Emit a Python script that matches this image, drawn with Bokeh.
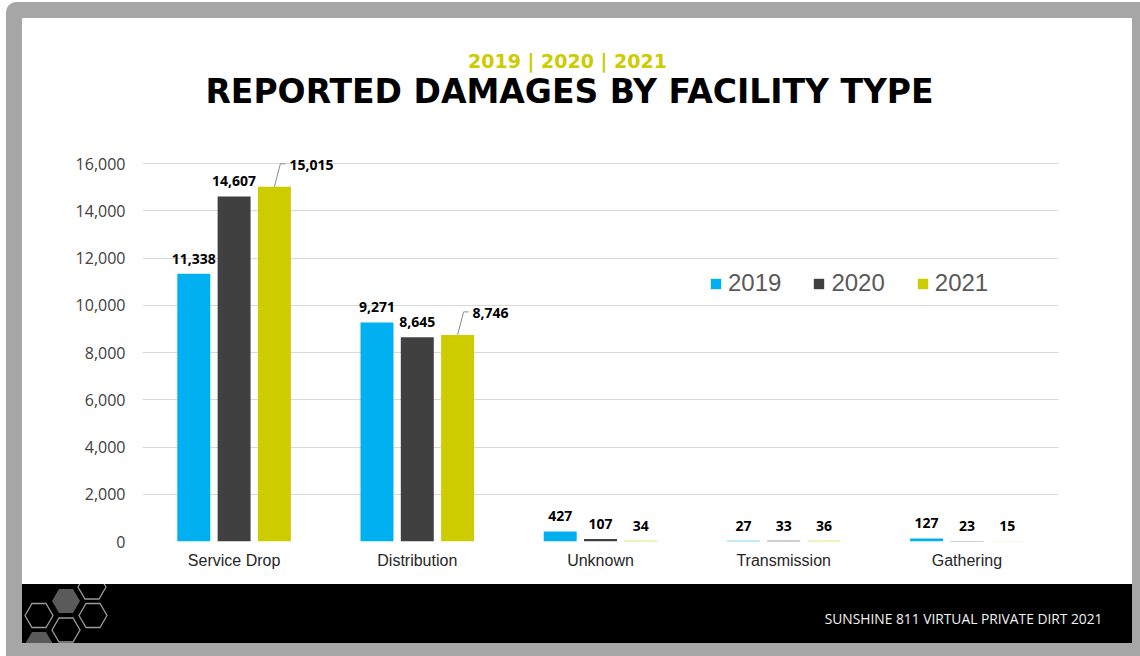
from urllib.parse import quote
from bokeh.plotting import figure
from bokeh.models import (FactorRange, Range1d, ColumnDataSource, Legend, LegendItem,
                          Label, FixedTicker, NumeralTickFormatter)
from bokeh.transform import dodge
from bokeh.core.properties import value
from bokeh.embed import file_html
from bokeh.resources import INLINE

# ---------------- data ----------------
categories = ["Service Drop", "Distribution", "Unknown", "Transmission", "Gathering"]
years = ["2019", "2020", "2021"]
damages_2019 = [11338, 9271, 427, 27, 127]
damages_2020 = [14607, 8645, 107, 33, 23]
damages_2021 = [15015, 8746, 34, 36, 15]
y_ticks = [0, 2000, 4000, 6000, 8000, 10000, 12000, 14000, 16000]

subtitle_text = "2019 | 2020 | 2021"
title_text = "REPORTED DAMAGES BY FACILITY TYPE"
footer_text = "SUNSHINE 811 VIRTUAL PRIVATE DIRT 2021"

# ---------------- styles ----------------
colors = ["#00B0F0", "#404040", "#CCCC00"]
bar_offsets = [-0.22, 0.0, 0.22]
bar_width = 0.18
leader_2021 = [True, True, False, False, False]   # labels moved aside with a leader line

CW, CH = 1140, 656                    # canvas
FL, FT, FW, FH = 142, 138, 916, 403   # frame in canvas px
PX_PER_16K = 378.0
Y_END = 16000.0 * FH / PX_PER_16K
PX_PER_UNIT = PX_PER_16K / 16000.0
PX_PER_CAT = FW / len(categories)

# ---------------- slide background (CSS, decoration only) ----------------
hexes = [(66, 601, True), (92, 587, False), (39, 615.5, False), (93, 615.5, False),
         (66, 630, False), (39, 644, True)]
hex_svg = ""
for cx, cy, filled in hexes:
    pts = [(cx - 14, cy), (cx - 7, cy - 12), (cx + 7, cy - 12), (cx + 14, cy), (cx + 7, cy + 12), (cx - 7, cy + 12)]
    ps = " ".join(f"{a},{b}" for a, b in pts)
    if filled:
        hex_svg += f"<polygon points='{ps}' fill='#5A5A5A'/>"
    else:
        hex_svg += f"<polygon points='{ps}' fill='none' stroke='#9A9A9A' stroke-width='1.3'/>"

slide_svg = (
    f"<svg xmlns='http://www.w3.org/2000/svg' width='{CW}' height='{CH}'>"
    "<rect x='6' y='2' width='1150' height='670' rx='10' fill='#A6A6A6'/>"
    "<rect x='22' y='18' width='1110' height='625' fill='#FFFFFF'/>"
    "<rect x='22' y='584' width='1110' height='59' fill='#000000'/>"
    "<clipPath id='c'><rect x='22' y='584' width='1110' height='59'/></clipPath>"
    f"<g clip-path='url(#c)'>{hex_svg}</g>"
    "</svg>"
)
bg_css = f'url("data:image/svg+xml,{quote(slide_svg, safe="")}")'

p = figure(x_range=FactorRange(factors=categories), y_range=Range1d(0, Y_END),
           frame_width=FW, frame_height=FH,
           min_border_left=FL, min_border_top=FT,
           min_border_right=CW - FL - FW, min_border_bottom=CH - FT - FH,
           output_backend="svg", toolbar_location=None)
p.styles = {"background-image": bg_css, "background-repeat": "no-repeat",
            "background-size": f"{CW}px {CH}px"}
p.border_fill_color = None
p.background_fill_color = None
p.outline_line_color = None

# ---------------- texts ----------------
p.add_layout(Label(x=567, y=60, x_units="canvas", y_units="canvas", text=subtitle_text,
                   text_align="center", text_baseline="middle", text_font="DejaVu Sans",
                   text_font_style="bold", text_font_size="19px", text_color="#CCCC00"), "above")
p.add_layout(Label(x=569, y=91, x_units="canvas", y_units="canvas", text=title_text,
                   text_align="center", text_baseline="middle", text_font="DejaVu Sans",
                   text_font_style="bold", text_font_size="33px", text_color="#000000"), "above")
p.add_layout(Label(x=1102, y=618, x_units="canvas", y_units="canvas", text=footer_text,
                   text_align="right", text_baseline="middle", text_font="Open Sans",
                   text_font_size="13.8px", text_color="#F2F2F2"), "above")

# ---------------- bars ----------------
series = [damages_2019, damages_2020, damages_2021]
src = ColumnDataSource(dict(cat=categories, y2019=damages_2019, y2020=damages_2020, y2021=damages_2021))
renderers = []
for yr, col, off in zip(years, colors, bar_offsets):
    r = p.vbar(x=dodge("cat", off, range=p.x_range), top="y" + yr, width=bar_width,
               source=src, fill_color=col, line_color=None)
    renderers.append(r)


def fmt(v):
    return f"{v:,}"


label_kw = dict(text_font=value("Open Sans"), text_font_style="bold",
                text_font_size="14px", text_color="#000000")
for yr, vals, off in zip(years, series, bar_offsets):
    idx = [j for j in range(len(categories)) if not (yr == "2021" and leader_2021[j])]
    lsrc = ColumnDataSource(dict(cat=[categories[j] for j in idx], val=[vals[j] for j in idx],
                                 txt=[fmt(vals[j]) for j in idx]))
    p.text(x=dodge("cat", off, range=p.x_range), y="val", text="txt", source=lsrc,
           text_align="center", text_baseline="alphabetic", y_offset=-15, **label_kw)

# 2021 labels moved aside with leader lines
idx = [j for j in range(len(categories)) if leader_2021[j]]
lead = ColumnDataSource(dict(cat=[categories[j] for j in idx],
                             val=[damages_2021[j] for j in idx],
                             top=[damages_2021[j] + 23 / PX_PER_UNIT for j in idx],
                             txt=[fmt(damages_2021[j]) for j in idx]))
off21 = bar_offsets[2]
p.segment(x0=dodge("cat", off21, range=p.x_range), y0="val",
          x1=dodge("cat", off21 + 6 / PX_PER_CAT, range=p.x_range), y1="top",
          source=lead, line_color="#8C8C8C", line_width=1)
p.segment(x0=dodge("cat", off21 + 6 / PX_PER_CAT, range=p.x_range), y0="top",
          x1=dodge("cat", off21 + 11 / PX_PER_CAT, range=p.x_range), y1="top",
          source=lead, line_color="#8C8C8C", line_width=1)
p.text(x=dodge("cat", off21, range=p.x_range), y="val", text="txt", source=lead,
       text_align="left", text_baseline="alphabetic", x_offset=15, y_offset=-22, **label_kw)

# ---------------- axes / grid ----------------
p.xgrid.visible = False
p.ygrid.grid_line_color = "#D9D9D9"
p.ygrid.grid_line_width = 1

p.yaxis.ticker = FixedTicker(ticks=y_ticks)
p.yaxis.formatter = NumeralTickFormatter(format="0,0")
p.yaxis.axis_line_color = None
p.yaxis.major_tick_line_color = None
p.yaxis.minor_tick_line_color = None
p.yaxis.major_tick_out = 0
p.yaxis.major_label_standoff = 17
p.yaxis.major_label_text_font = "Open Sans"
p.yaxis.major_label_text_font_size = "16px"
p.yaxis.major_label_text_color = "#404040"

p.xaxis.axis_line_color = None
p.xaxis.major_tick_line_color = None
p.xaxis.major_tick_out = 0
p.xaxis.major_label_standoff = 10
p.xaxis.major_label_text_font = "Liberation Sans"
p.xaxis.major_label_text_font_size = "16px"
p.xaxis.major_label_text_color = "#262626"

# ---------------- legend ----------------
legend = Legend(items=[LegendItem(label=yr, renderers=[r]) for yr, r in zip(years, renderers)],
                orientation="horizontal", location=(567, 244),
                label_text_font="Liberation Sans", label_text_font_size="24px",
                label_text_color="#595959", glyph_width=13, glyph_height=13,
                label_standoff=6, spacing=31, padding=0, margin=0,
                border_line_color=None, background_fill_alpha=0)
p.add_layout(legend)

open("out.html", "w").write(file_html(p, INLINE))
